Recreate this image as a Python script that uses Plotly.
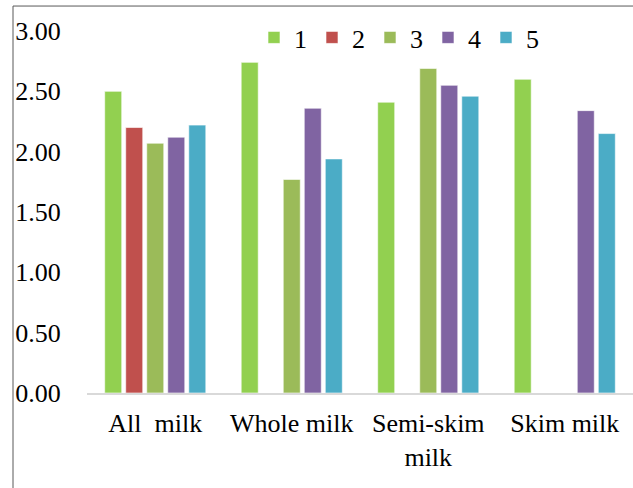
import plotly.graph_objects as go

categories = ["All\u00a0\u00a0milk", "Whole milk", "Semi-skim<br>milk", "Skim milk"]
series_names = ["1", "2", "3", "4", "5"]
s1 = [2.50, 2.74, 2.41, 2.60]
s2 = [2.20, None, None, None]
s3 = [2.07, 1.77, 2.69, None]
s4 = [2.12, 2.36, 2.55, 2.34]
s5 = [2.22, 1.94, 2.46, 2.15]
series_values = [s1, s2, s3, s4, s5]
colors = ["#92D050", "#C0504D", "#9BBB59", "#8064A2", "#4BACC6"]
y_ticks = [0, 0.5, 1.0, 1.5, 2.0, 2.5, 3.0]

W, H = 633, 488
L, R, T, B = 87, 0, 31, 94.5
pw = W - L - R
ph = H - T - B

fig = go.Figure()
for name, vals, col in zip(series_names, series_values, colors):
    fig.add_trace(go.Bar(x=categories, y=vals, name=name,
                         marker=dict(color=col, line=dict(color="rgba(255,255,255,0.6)", width=1))))

font = dict(family="Liberation Serif, Times New Roman, serif", size=26, color="#000000")

def px_x(px):
    return (px - L) / pw

def px_y(py):
    return (H - B - py) / ph

fig.update_layout(
    width=W, height=H,
    margin=dict(l=L, r=R, t=T, b=B),
    paper_bgcolor="white", plot_bgcolor="white",
    barmode="group", bargap=0.23, bargroupgap=0.19,
    font=font,
    showlegend=True,
    legend=dict(orientation="h", x=px_x(254), y=px_y(14), xanchor="left", yanchor="top",
                font=font, bgcolor="rgba(0,0,0,0)", itemwidth=30, tracegroupgap=0),
    xaxis=dict(showgrid=False, showline=True, linecolor="#D9D9D9", linewidth=2,
               ticks="outside", ticklen=6, tickcolor="rgba(0,0,0,0)", tickfont=font,
               fixedrange=True),
    yaxis=dict(range=[0, 3], tickvals=y_ticks, tickformat=".2f", showgrid=False,
               showline=False, zeroline=False, ticks="outside", ticklen=20,
               tickcolor="rgba(0,0,0,0)", tickfont=font, fixedrange=True),
    shapes=[dict(type="rect", xref="paper", yref="paper",
                 x0=px_x(13), x1=px_x(700), y0=px_y(600), y1=px_y(6),
                 line=dict(color="#595959", width=1), fillcolor="rgba(0,0,0,0)", layer="below")],
)

fig.write_html("out.html", config={"displayModeBar": False},
               post_script="document.body.style.margin='0';document.body.style.overflow='hidden';")
